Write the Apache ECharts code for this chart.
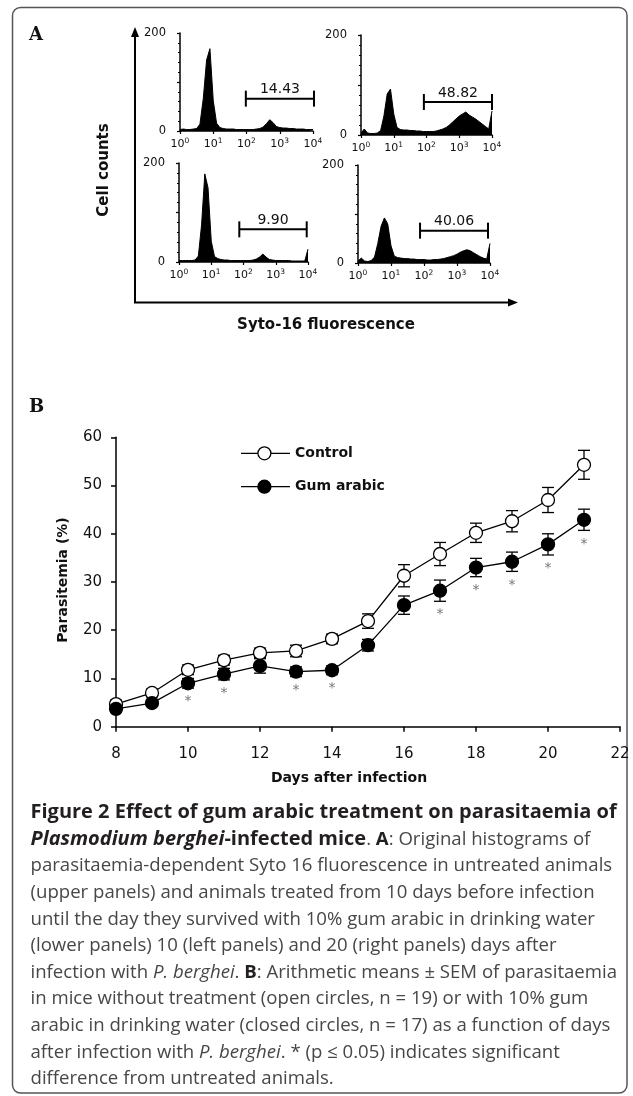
<!DOCTYPE html>
<html>
<head>
<meta charset="utf-8">
<script src="https://cdn.jsdelivr.net/npm/echarts@6/dist/echarts.min.js"></script>
<style>
  html, body { margin: 0; padding: 0; background: #fff; }
  #chart { width: 633px; height: 1096px; }
</style>
</head>
<body>
<div id="chart"></div>
<script>
// ---- panel A: histogram data (log10 fluorescence bins, cell counts) ----
var histBins = [0, 0.1, 0.2, 0.3, 0.4, 0.5, 0.6, 0.7, 0.8, 0.9, 1.0, 1.1, 1.2, 1.3, 1.4, 1.5, 1.6, 1.7, 1.8, 1.9, 2.0,
                2.1, 2.2, 2.3, 2.4, 2.5, 2.6, 2.7, 2.8, 2.9, 3.0, 3.1, 3.2, 3.3, 3.4, 3.5, 3.6, 3.7, 3.8, 3.9, 4.0];
var controlDay10 = [3, 4, 3, 3, 4, 5, 14, 66, 145, 168, 62, 16, 7, 5, 4, 4, 4, 3, 3, 3, 3,
                    3, 3, 4, 5, 8, 15, 23, 17, 9, 7, 6, 6, 5, 5, 4, 4, 4, 3, 3, 3];
var controlDay20 = [4, 12, 4, 3, 3, 4, 9, 38, 82, 92, 42, 15, 11, 10, 10, 9, 9, 8, 8, 7, 7,
                    7, 7, 8, 10, 12, 15, 20, 26, 32, 38, 42, 46, 40, 36, 32, 27, 22, 17, 12, 48];
var gumDay10 = [3, 3, 3, 3, 3, 4, 12, 75, 178, 150, 42, 11, 7, 5, 4, 4, 3, 3, 3, 3, 3,
                3, 3, 4, 6, 10, 16, 10, 5, 4, 3, 3, 3, 3, 3, 2, 2, 2, 2, 2, 26];
var gumDay20 = [4, 10, 4, 3, 5, 12, 40, 75, 92, 80, 35, 14, 11, 10, 9, 9, 8, 8, 7, 7, 7,
                6, 6, 7, 7, 8, 9, 11, 13, 15, 18, 22, 25, 27, 25, 21, 17, 13, 10, 8, 40];
var gateStart = [1.98, 1.92, 1.87, 1.88];
var gateEnd = [4.03, 4.0, 3.96, 3.94];
var gatePct = ['14.43', '48.82', '9.90', '40.06'];
var decadeExp = [0, 1, 2, 3, 4];

// ---- panel B: parasitaemia over time ----
var days = [8, 9, 10, 11, 12, 13, 14, 15, 16, 17, 18, 19, 20, 21];
var controlMean = [4.7, 7.0, 11.8, 13.8, 15.3, 15.7, 18.2, 21.9, 31.3, 35.8, 40.2, 42.6, 47.0, 54.3];
var controlSem = [0.8, 0.8, 1.0, 1.0, 1.0, 1.2, 1.0, 1.5, 2.3, 2.4, 2.0, 2.2, 2.6, 3.0];
var gumMean = [3.7, 4.9, 9.0, 10.9, 12.6, 11.4, 11.7, 16.9, 25.2, 28.2, 33.0, 34.2, 37.8, 42.9];
var gumSem = [0.6, 0.6, 1.0, 1.2, 1.5, 1.0, 0.9, 1.2, 1.9, 2.2, 1.9, 2.0, 2.2, 2.2];
var sigDays = [10, 11, 13, 14, 17, 18, 19, 20, 21];
var yTicksB = [0, 10, 20, 30, 40, 50, 60];

var FONT = 'DejaVu Sans';
var GATE_Y = 66;

var chart = echarts.init(document.getElementById('chart'));

// histogram grids: TL control d10, TR control d20, BL gum d10, BR gum d20
var histGrids = [
    { left: 180, top: 33, width: 133, height: 98 },
    { left: 361, top: 35, width: 131, height: 100 },
    { left: 179, top: 163, width: 129, height: 99 },
    { left: 358, top: 165, width: 132, height: 98 }
];
var histData = [controlDay10, controlDay20, gumDay10, gumDay20];

var grids = [], xAxes = [], yAxes = [], series = [];
histGrids.forEach(function (g, i) {
    grids.push(g);
    xAxes.push({
        gridIndex: i, type: 'value', min: 0, max: 4, interval: 1,
        axisLine: { show: true, lineStyle: { color: '#000', width: 1.5 } },
        axisTick: { show: true, length: 3, lineStyle: { color: '#000', width: 1.2 } },
        splitLine: { show: false },
        axisLabel: {
            margin: 6,
            formatter: function (v) { return '{b|10}{s|' + decadeExp[v] + '}'; },
            rich: {
                b: { fontFamily: FONT, fontSize: 11, color: '#111', lineHeight: 14 },
                s: { fontFamily: FONT, fontSize: 7.5, color: '#111', verticalAlign: 'top', lineHeight: 14 }
            }
        }
    });
    yAxes.push({
        gridIndex: i, type: 'value', min: 0, max: 200, interval: 100,
        axisLine: { show: true, lineStyle: { color: '#000', width: 1.5 } },
        axisTick: { show: true, length: 3, lineStyle: { color: '#000', width: 1.2 } },
        minorTick: { show: true, splitNumber: 5, length: 2, lineStyle: { color: '#000', width: 1.2 } },
        splitLine: { show: false },
        axisLabel: {
            margin: 14, fontFamily: FONT, fontSize: 11.5, color: '#111',
            formatter: function (v) { return v === 100 ? '' : v; }
        }
    });
    series.push({
        type: 'line', xAxisIndex: i, yAxisIndex: i, symbol: 'none', silent: true,
        data: histBins.map(function (b, k) { return [b, histData[i][k]]; }),
        lineStyle: { color: '#000', width: 1 },
        areaStyle: { color: '#000', opacity: 1 }
    });
    series.push({
        type: 'custom', xAxisIndex: i, yAxisIndex: i, silent: true,
        data: [[gateStart[i], gateEnd[i], GATE_Y]],
        encode: { x: [0, 1], y: 2 },
        renderItem: function (params, api) {
            var p1 = api.coord([api.value(0), api.value(2)]);
            var p2 = api.coord([api.value(1), api.value(2)]);
            var st = { stroke: '#000', lineWidth: 2 };
            return {
                type: 'group',
                children: [
                    { type: 'line', shape: { x1: p1[0], y1: p1[1], x2: p2[0], y2: p2[1] }, style: st },
                    { type: 'line', shape: { x1: p1[0], y1: p1[1] - 8, x2: p1[0], y2: p1[1] + 8 }, style: st },
                    { type: 'line', shape: { x1: p2[0], y1: p2[1] - 8, x2: p2[0], y2: p2[1] + 8 }, style: st },
                    { type: 'text', x: (p1[0] + p2[0]) / 2, y: p1[1] - 9,
                      style: { text: gatePct[i], fontFamily: FONT, fontSize: 14, fill: '#111',
                               align: 'center', verticalAlign: 'middle' } }
                ]
            };
        }
    });
});

// panel B grid
var gb = 4;
grids.push({ left: 116, top: 437.3, width: 504, height: 289.4 });
xAxes.push({
    gridIndex: gb, type: 'value', min: 8, max: 22, interval: 2,
    axisLine: { show: true, lineStyle: { color: '#000', width: 1.5 } },
    axisTick: { show: true, length: 5, lineStyle: { color: '#000', width: 1.5 } },
    splitLine: { show: false },
    axisLabel: { margin: 20, fontFamily: FONT, fontSize: 15, color: '#111' }
});
yAxes.push({
    gridIndex: gb, type: 'value', min: yTicksB[0], max: yTicksB[yTicksB.length - 1], interval: 10,
    axisLine: { show: true, lineStyle: { color: '#000', width: 1.5 } },
    axisTick: { show: true, length: 5, lineStyle: { color: '#000', width: 1.5 } },
    splitLine: { show: false },
    axisLabel: { margin: 14, fontFamily: FONT, fontSize: 15, color: '#111' }
});

function errorSeries(mean, sem) {
    return {
        type: 'custom', xAxisIndex: gb, yAxisIndex: gb, silent: true, z: 1,
        data: days.map(function (d, i) { return [d, mean[i] - sem[i], mean[i] + sem[i]]; }),
        encode: { x: 0, y: [1, 2] },
        renderItem: function (params, api) {
            var lo = api.coord([api.value(0), api.value(1)]);
            var hi = api.coord([api.value(0), api.value(2)]);
            var st = { stroke: '#000', lineWidth: 1.3 };
            return {
                type: 'group',
                children: [
                    { type: 'line', shape: { x1: lo[0], y1: lo[1], x2: hi[0], y2: hi[1] }, style: st },
                    { type: 'line', shape: { x1: lo[0] - 6, y1: lo[1], x2: lo[0] + 6, y2: lo[1] }, style: st },
                    { type: 'line', shape: { x1: hi[0] - 6, y1: hi[1], x2: hi[0] + 6, y2: hi[1] }, style: st }
                ]
            };
        }
    };
}
series.push(errorSeries(controlMean, controlSem));
series.push(errorSeries(gumMean, gumSem));
series.push({
    name: 'Control', type: 'line', xAxisIndex: gb, yAxisIndex: gb, z: 3, silent: true,
    data: days.map(function (d, i) { return [d, controlMean[i]]; }),
    symbol: 'circle', symbolSize: 13,
    itemStyle: { color: '#fff', borderColor: '#000', borderWidth: 1.3 },
    lineStyle: { color: '#000', width: 1.3 }
});
series.push({
    name: 'Gum arabic', type: 'line', xAxisIndex: gb, yAxisIndex: gb, z: 4, silent: true,
    data: days.map(function (d, i) { return [d, gumMean[i]]; }),
    symbol: 'circle', symbolSize: 13,
    itemStyle: { color: '#000', borderColor: '#000', borderWidth: 1.3 },
    lineStyle: { color: '#000', width: 1.3 }
});
// significance asterisks under the gum arabic error bars
series.push({
    type: 'scatter', xAxisIndex: gb, yAxisIndex: gb, silent: true, z: 5,
    data: sigDays.map(function (d) { var k = days.indexOf(d); return [d, gumMean[k] - gumSem[k]]; }),
    symbolSize: 1, itemStyle: { color: 'rgba(0,0,0,0)' },
    label: { show: true, position: 'bottom', distance: 6, formatter: '*',
             fontFamily: FONT, fontSize: 14, color: '#555' }
});

// caption lines
var capRich = {
    t: { fontFamily: 'Open Sans', fontSize: 20, fontWeight: 'bold', fill: '#231f20' },
    ti: { fontFamily: 'Open Sans', fontSize: 20, fontWeight: 'bold', fontStyle: 'italic', fill: '#231f20' },
    n: { fontFamily: 'Open Sans', fontSize: 18.6, fill: '#474747' },
    nb: { fontFamily: 'Open Sans', fontSize: 18.6, fontWeight: 'bold', fill: '#231f20' },
    ni: { fontFamily: 'Open Sans', fontSize: 18.6, fontStyle: 'italic', fill: '#474747' }
};
var capLines = [
    '{t|Figure 2 Effect of gum arabic treatment on parasitaemia of}',
    '{ti|Plasmodium berghei}{t|-infected mice}{n|. }{nb|A}{n|: Original histograms of}',
    '{n|parasitaemia-dependent Syto 16 fluorescence in untreated animals}',
    '{n|(upper panels) and animals treated from 10 days before infection}',
    '{n|until the day they survived with 10% gum arabic in drinking water}',
    '{n|(lower panels) 10 (left panels) and 20 (right panels) days after}',
    '{n|infection with }{ni|P. berghei}{n|. }{nb|B}{n|: Arithmetic means \u00b1 SEM of parasitaemia}',
    '{n|in mice without treatment (open circles, n = 19) or with 10% gum}',
    '{n|arabic in drinking water (closed circles, n = 17) as a function of days}',
    '{n|after infection with }{ni|P. berghei}{n|. * (p \u2264 0.05) indicates significant}',
    '{n|difference from untreated animals.}'
];

var graphics = [
    { type: 'rect', shape: { x: 12.5, y: 7.5, width: 614.5, height: 1085.5, r: 8 },
      style: { fill: 'none', stroke: '#555', lineWidth: 1.5 }, silent: true },
    { type: 'text', x: 29, y: 35, style: { text: 'A', fontFamily: 'DejaVu Serif', fontWeight: 'bold', fontSize: 18, fill: '#111', verticalAlign: 'middle' } },
    { type: 'text', x: 29, y: 407, style: { text: 'B', fontFamily: 'DejaVu Serif', fontWeight: 'bold', fontSize: 18, fill: '#111', verticalAlign: 'middle' } },
    // big axes of panel A
    { type: 'polyline', shape: { points: [[135, 302.5], [135, 34]] }, style: { stroke: '#000', lineWidth: 2 } },
    { type: 'polygon', shape: { points: [[131, 37], [135, 27], [139, 37]] }, style: { fill: '#000' } },
    { type: 'polyline', shape: { points: [[134, 302.5], [509, 302.5]] }, style: { stroke: '#000', lineWidth: 2 } },
    { type: 'polygon', shape: { points: [[508, 298.5], [518, 302.5], [508, 306.5]] }, style: { fill: '#000' } },
    { type: 'text', x: 104, y: 170, rotation: Math.PI / 2,
      style: { text: 'Cell counts', fontFamily: FONT, fontWeight: 'bold', fontSize: 15, fill: '#111', align: 'center', verticalAlign: 'middle' } },
    { type: 'text', x: 326, y: 325,
      style: { text: 'Syto-16 fluorescence', fontFamily: FONT, fontWeight: 'bold', fontSize: 15, fill: '#111', align: 'center', verticalAlign: 'middle' } },
    // panel B axis names
    { type: 'text', x: 63, y: 580, rotation: Math.PI / 2,
      style: { text: 'Parasitemia (%)', fontFamily: FONT, fontWeight: 'bold', fontSize: 14, fill: '#111', align: 'center', verticalAlign: 'middle' } },
    { type: 'text', x: 349, y: 778,
      style: { text: 'Days after infection', fontFamily: FONT, fontWeight: 'bold', fontSize: 14, fill: '#111', align: 'center', verticalAlign: 'middle' } },
    // legend
    { type: 'line', shape: { x1: 241, y1: 453.3, x2: 290, y2: 453.3 }, style: { stroke: '#000', lineWidth: 1.3 } },
    { type: 'circle', shape: { cx: 264.4, cy: 453.3, r: 6.5 }, style: { fill: '#fff', stroke: '#000', lineWidth: 1.3 } },
    { type: 'text', x: 295, y: 453.3, style: { text: 'Control', fontFamily: FONT, fontWeight: 'bold', fontSize: 14, fill: '#111', verticalAlign: 'middle' } },
    { type: 'line', shape: { x1: 241, y1: 486.7, x2: 290, y2: 486.7 }, style: { stroke: '#000', lineWidth: 1.3 } },
    { type: 'circle', shape: { cx: 264.4, cy: 486.7, r: 6.5 }, style: { fill: '#000', stroke: '#000', lineWidth: 1.3 } },
    { type: 'text', x: 295, y: 486.7, style: { text: 'Gum arabic', fontFamily: FONT, fontWeight: 'bold', fontSize: 14, fill: '#111', verticalAlign: 'middle' } }
];
capLines.forEach(function (line, i) {
    graphics.push({
        type: 'text', x: 30.5, y: 812.7 + i * 26.63,
        style: { text: line, rich: capRich, verticalAlign: 'middle' }
    });
});

var option = {
    backgroundColor: '#fff',
    animation: false,
    grid: grids,
    xAxis: xAxes,
    yAxis: yAxes,
    series: series,
    graphic: graphics
};
chart.setOption(option);
</script>
</body>
</html>
